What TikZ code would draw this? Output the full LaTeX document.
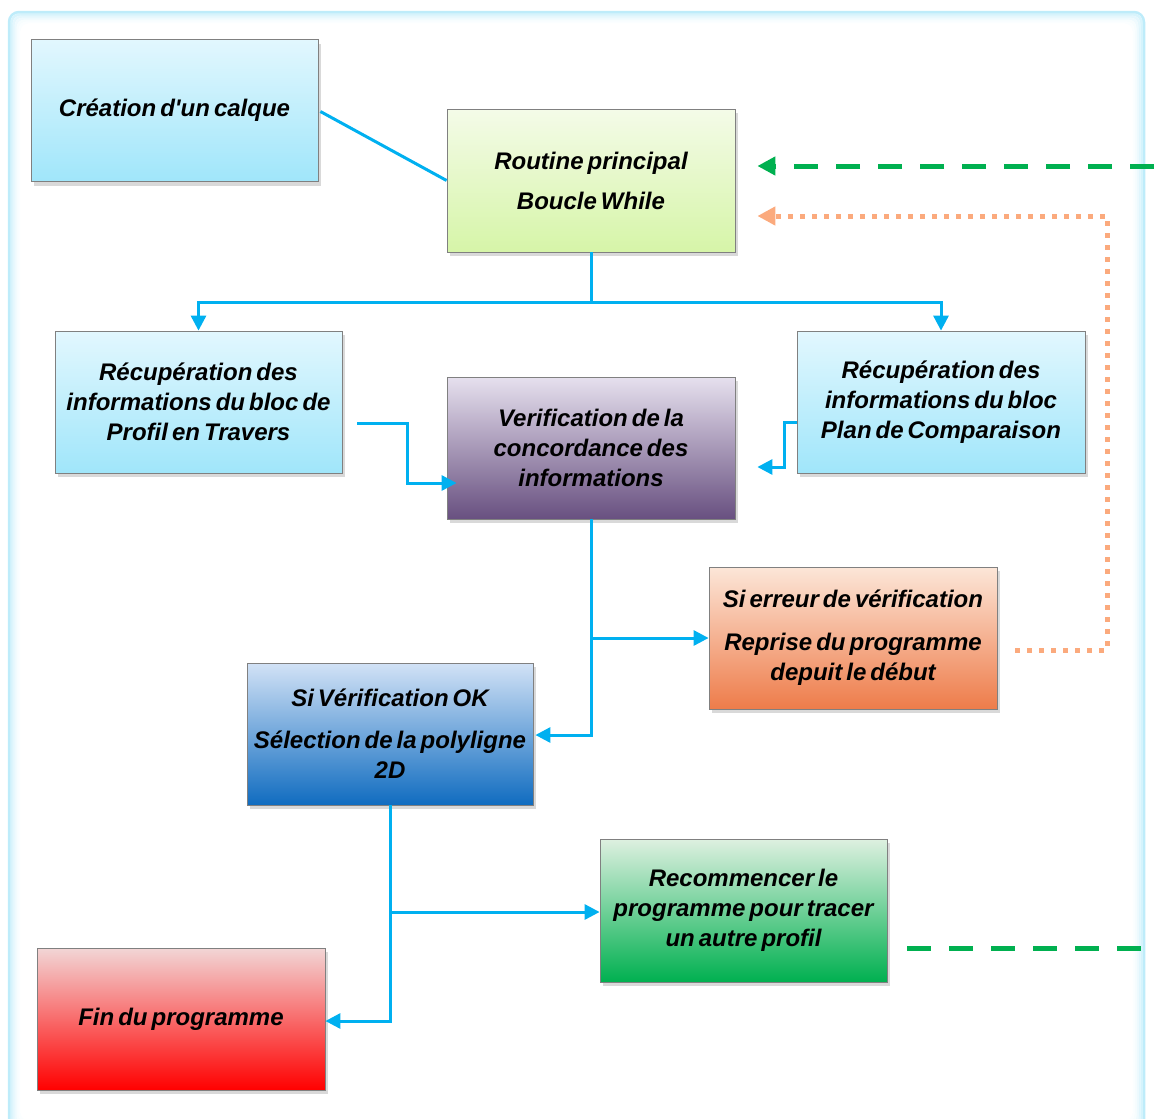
\documentclass[tikz,border=0pt]{standalone}
\usepackage{fontspec}
\setmainfont{Liberation Sans}[WordSpace=0.6, Ligatures=TeXOff]
\usetikzlibrary{arrows.meta,shadows,calc}
\definecolor{conncol}{RGB}{0,176,240}
\definecolor{greendash}{RGB}{0,176,80}
\definecolor{orangedot}{RGB}{251,170,125}
\definecolor{framecol}{RGB}{190,236,250}
\definecolor{cyanTop}{RGB}{226,247,254}
\definecolor{cyanBot}{RGB}{160,230,250}
\definecolor{limeTop}{RGB}{244,251,232}
\definecolor{limeBot}{RGB}{214,245,168}
\definecolor{purpTop}{RGB}{230,224,238}
\definecolor{purpBot}{RGB}{104,80,128}
\definecolor{oranTop}{RGB}{252,230,216}
\definecolor{oranBot}{RGB}{238,124,74}
\definecolor{blueTop}{RGB}{210,226,246}
\definecolor{blueBot}{RGB}{16,108,192}
\definecolor{grnTop}{RGB}{222,240,224}
\definecolor{grnBot}{RGB}{0,176,80}
\definecolor{redTop}{RGB}{242,214,214}
\definecolor{redBot}{RGB}{255,0,0}
\definecolor{boxline}{RGB}{128,128,128}
\begin{document}
\begin{tikzpicture}[x=1pt,y=-1pt,
  box/.style={draw=boxline, line width=0.8pt, minimum width=287pt, minimum height=142pt,
    align=center, inner sep=2pt, font=\bfseries\itshape\fontsize{24}{30}\selectfont,
    drop shadow={shadow xshift=3pt, shadow yshift=-4pt, opacity=0.3}},
  cyanbox/.style={box, top color=cyanTop, bottom color=cyanBot},
  conn/.style={draw=conncol, line width=3pt},
  arr/.style={conn, -{Triangle[length=15pt,width=15pt]}},
  gdash/.style={draw=greendash, line width=5pt, dash pattern=on 24pt off 18pt},
  odot/.style={draw=orangedot, line width=5pt, dash pattern=on 5pt off 7pt},
  bigtip/.style={-{Triangle[length=18pt,width=18pt]}},
]
\useasboundingbox (0,0) rectangle (1154,1119);
% outer frame with glow
\foreach \i/\o in {0/1.0,2/0.6,4/0.4,6/0.25,8/0.12,10/0.06}{
  \draw[framecol, line width=2.5pt, opacity=\o, rounded corners=10pt]
    (9+\i,12+\i) rectangle (1144-\i,1132-\i);
}
% boxes
\node[cyanbox] (b1) at (174.5,110.5) {Création d'un calque};
\node[box, top color=limeTop, bottom color=limeBot, minimum width=288pt, minimum height=143pt] (b2) at (591,180.5) {Routine principal\\[10pt]Boucle While};
\node[cyanbox] (b3) at (198.5,402) {Récupération des\\informations du bloc de\\Profil en Travers};
\node[box, top color=purpTop, bottom color=purpBot, minimum width=288pt] (b4) at (591,448) {Verification de la\\concordance des\\informations};
\node[cyanbox, minimum width=288pt] (b5) at (941,402) {Récupération des\\informations du bloc\\Plan de Comparaison};
\node[box, top color=oranTop, bottom color=oranBot, minimum width=288pt] (b6) at (853,638) {Si erreur de vérification\\[13pt]Reprise du programme\\depuit le début};
\node[box, top color=blueTop, bottom color=blueBot, minimum width=286pt] (b7) at (390,734) {Si Vérification OK\\[12pt]Sélection de la polyligne\\2D};
\node[box, top color=grnTop, bottom color=grnBot, minimum height=143pt] (b8) at (743.5,910.5) {Recommencer le\\programme pour tracer\\un autre profil};
\node[box, top color=redTop, bottom color=redBot, minimum width=288pt] (b9) at (181,1019) {Fin du programme};
% connectors
\draw[conn] ($(b1.east)+(2,1)$) -- (b2.west);
\draw[arr] (b2.south) -- ++(0,50) -| (b3.north);
\draw[arr] (b2.south) -- ++(0,50) -| (b5.north);
\draw[arr] ($(b3.east)+(15,21)$) -- ++(50,0) |- ($(b4.west)+(10,35)$);
\draw[arr] ($(b5.west)+(0,20)$) -- ++(-12,0) |- ($(b4.east)+(22,19)$);
\draw[arr] (b4.south) |- (b6.west);
\draw[arr] (b4.south) |- ($(b7.east)+(2,1)$);
\draw[arr] (b7.south) |- ($(b8.west)+(0,1.5)$);
\draw[arr] (b7.south) |- ($(b9.east)+(0,2)$);
% return loops
\coordinate (gr1) at (1154,166);
\coordinate (gr2) at (1143,948);
\draw[gdash] ($(b8.east)+(20,37.5)$) -- (gr2);
\draw[gdash, bigtip] (gr1) -- ($(b2.east)+(22,-14.5)$);
\coordinate (oc) at (1107,216);
\draw[odot, bigtip] ($(b6.east)+(18,12)$) -| (oc) -- ($(b2.east)+(22,35.5)$);
\end{tikzpicture}
\end{document}
